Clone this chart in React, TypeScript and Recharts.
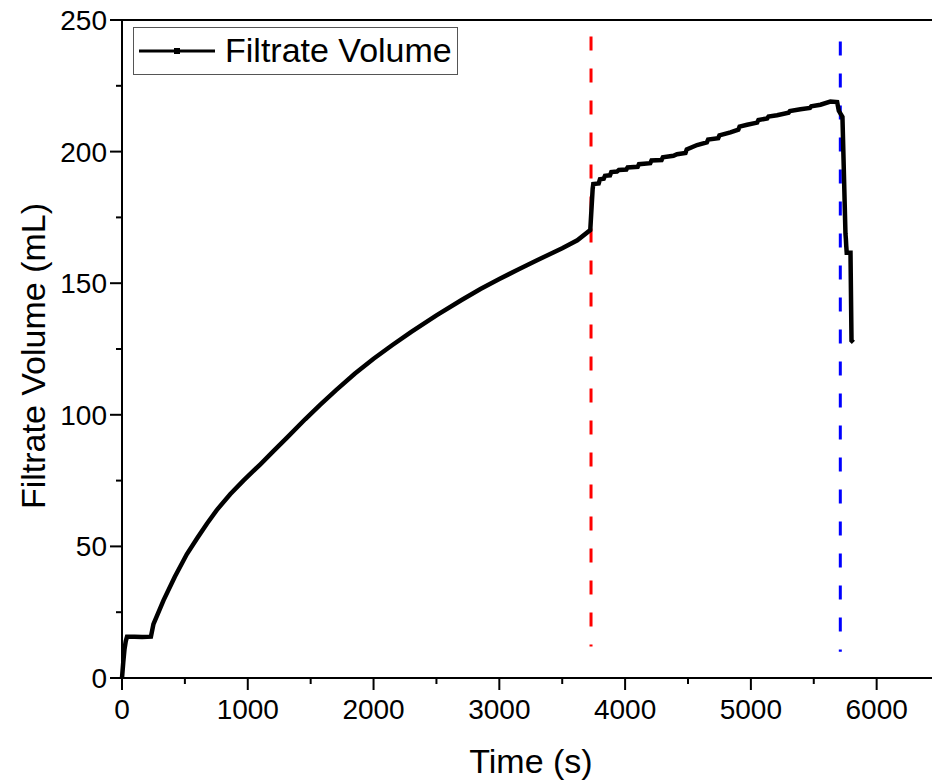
import { LineChart, Line, XAxis, YAxis, ReferenceLine, Legend } from 'recharts';

// time (s) and filtrate volume (mL)
const times = [
    0, 10, 20, 30, 40, 100, 160, 230, 250, 330, 420, 515, 600, 675, 760, 860, 965, 1100, 1200, 1310,
    1456, 1575, 1700, 1850, 2000, 2150, 2300, 2500, 2700, 2850, 3000, 3150, 3300, 3500, 3620, 3723,
    3742, 3747, 3790, 3800, 3830, 3840, 3880, 3890, 3935, 3950, 4010, 4020, 4100, 4110, 4200, 4210,
    4290, 4300, 4384, 4413, 4480, 4490, 4572, 4650, 4660, 4740, 4750, 4837, 4900, 4910, 4970, 5050,
    5060, 5130, 5140, 5208, 5300, 5310, 5394, 5470, 5480, 5553, 5632, 5686, 5699, 5728, 5752, 5755,
    5758, 5762, 5792, 5800, 5815,
];
const volume = [
    0, 6, 11, 14, 15.7, 15.7, 15.6, 15.7, 20.5, 29.5, 38.5, 47, 53.3, 58.6, 64.2, 69.8, 75, 81.2, 86, 91.2,
    98.3, 103.8, 109.3, 115.6, 121.3, 126.5, 131.5, 137.8, 143.6, 147.8, 151.6, 155.2, 158.7, 163.3, 166.3, 170.2,
    185.8, 187.7, 187.9, 189.5, 189.7, 190.8, 191, 192.2, 192.4, 193, 193.2, 194, 194.2, 195.2, 195.6, 196.6,
    196.8, 197.8, 198.4, 199, 199.5, 200.8, 202.5, 203.5, 204.6, 205.1, 206.2, 207.3, 208.3, 209.5, 210.2, 211,
    212, 212.6, 213.3, 213.8, 214.8, 215.4, 216.1, 216.6, 217.2, 217.8, 219, 218.8, 215.5, 213.2, 168.8, 167,
    164.3, 161.6, 161.6, 128.2, 127.5,
];

const data = times.map((t, i) => ({ t, v: volume[i] }));

const xTicks = [0, 500, 1000, 1500, 2000, 2500, 3000, 3500, 4000, 4500, 5000, 5500, 6000];
const yTicks = [0, 25, 50, 75, 100, 125, 150, 175, 200, 225, 250];

const redLineAt = 3729;
const blueLineAt = 5711;

const font = "'Liberation Sans', Arial, sans-serif";

function XTick({ x, y, payload }: any) {
    const major = payload.value % 1000 === 0;
    return (
        <g>
            <line x1={x} x2={x} y1={y} y2={y + (major ? 12 : 6)} stroke="#000" strokeWidth={2} />
            {major && (
                <text x={x} y={y + 41} textAnchor="middle" fontSize={28} fontFamily={font} fill="#000">
                    {payload.value}
                </text>
            )}
        </g>
    );
}

function YTick({ x, y, payload }: any) {
    const major = payload.value % 50 === 0;
    return (
        <g>
            <line x1={x} x2={x - (major ? 12 : 6)} y1={y} y2={y} stroke="#000" strokeWidth={2} />
            {major && (
                <text x={x - 15} y={y + 10} textAnchor="end" fontSize={28} fontFamily={font} fill="#000">
                    {payload.value}
                </text>
            )}
        </g>
    );
}

function LegendBox() {
    return (
        <div style={{ width: 325, height: 48, border: '1px solid #555', boxSizing: 'border-box', position: 'relative', background: '#fff' }}>
            <svg width={90} height={47} style={{ position: 'absolute', left: 4, top: 0 }}>
                <line x1={1} x2={77} y1={23} y2={23} stroke="#000" strokeWidth={3} />
                <rect x={36} y={20} width={6} height={6} fill="#000" />
            </svg>
            <span style={{ position: 'absolute', left: 91, top: 3, fontSize: 34, fontFamily: font, color: '#000', lineHeight: '38px' }}>
                Filtrate Volume
            </span>
        </div>
    );
}

export default function App() {
    return (
        <div style={{ position: 'absolute', left: 0, top: 0, width: 932, height: 783, background: '#fff' }}>
            <LineChart width={932} height={783} data={data} margin={{ top: 20, right: 0, bottom: 0, left: 0 }}>
                <XAxis
                    dataKey="t"
                    type="number"
                    domain={[0, 6440]}
                    ticks={xTicks}
                    interval={0}
                    tick={<XTick />}
                    tickSize={0}
                    tickMargin={0}
                    tickLine={false}
                    height={105}
                    axisLine={{ stroke: '#000', strokeWidth: 2 }}
                    label={{
                        content: () => (
                            <text x={531} y={773} textAnchor="middle" fontSize={34} fontFamily={font} fill="#000">
                                Time (s)
                            </text>
                        ),
                    }}
                />
                <YAxis
                    type="number"
                    domain={[0, 250]}
                    ticks={yTicks}
                    interval={0}
                    tick={<YTick />}
                    tickSize={0}
                    tickMargin={0}
                    tickLine={false}
                    width={122}
                    axisLine={{ stroke: '#000', strokeWidth: 2 }}
                    label={{
                        content: () => (
                            <text
                                x={33}
                                y={356}
                                transform="rotate(-90 33 356)"
                                textAnchor="middle"
                                dominantBaseline="central"
                                fontSize={34}
                                fontFamily={font}
                                fill="#000"
                            >
                                Filtrate Volume (mL)
                            </text>
                        ),
                    }}
                />
                <ReferenceLine y={250} stroke="#000" strokeWidth={2} />
                <ReferenceLine
                    segment={[{ x: redLineAt, y: 243.7 }, { x: redLineAt, y: 12 }]}
                    stroke="#ff0000"
                    strokeWidth={3}
                    strokeDasharray="14 18"
                />
                <ReferenceLine
                    segment={[{ x: blueLineAt, y: 241.8 }, { x: blueLineAt, y: 10 }]}
                    stroke="#0000ff"
                    strokeWidth={3}
                    strokeDasharray="14 18"
                />
                <Line
                    dataKey="v"
                    name="Filtrate Volume"
                    type="linear"
                    stroke="#000"
                    strokeWidth={4.5}
                    dot={false}
                    isAnimationActive={false}
                />
                <Legend
                    layout="vertical"
                    align="center"
                    verticalAlign="middle"
                    content={() => <LegendBox />}
                    wrapperStyle={{ position: 'absolute', left: 133, top: 27, width: 'auto', height: 'auto' }}
                />
            </LineChart>
        </div>
    );
}
